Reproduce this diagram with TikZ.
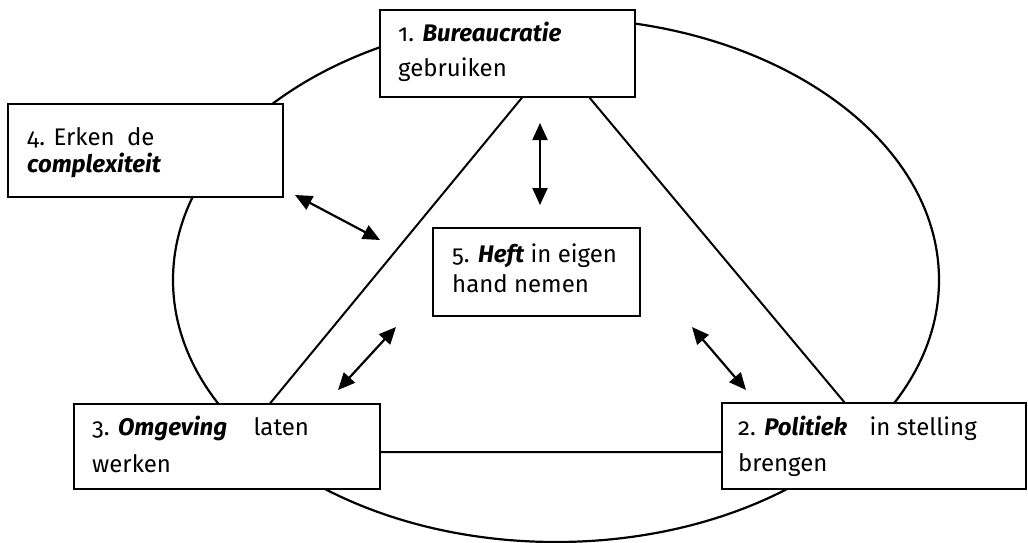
\documentclass[tikz,border=0pt]{standalone}
\usepackage{fontspec}
\setmainfont{Fira Sans}[Numbers=OldStyle]
\usetikzlibrary{arrows.meta,shapes.geometric}
\tikzset{
  boxnode/.style={draw, fill=white, line width=2.2pt, inner sep=0pt, anchor=north west},
  txt/.style={anchor=base west, inner sep=0pt, align=left},
  ln/.style={line width=2pt},
  dbl/.style={line width=2.2pt, {Triangle[length=17pt,width=15pt]}-{Triangle[length=17pt,width=15pt]}}
}
\begin{document}
\begin{tikzpicture}[x=1pt,y=-1pt]
\useasboundingbox (0,0) rectangle (1028,543);
% ellipse
\node[draw, ellipse, line width=2.2pt, minimum width=766pt, minimum height=524pt, inner sep=0pt] (ell) at (556,280) {};
% triangle
\coordinate (ta) at (555.5,57);
\coordinate (tl) at (230,452);
\coordinate (tr) at (886,452);
\draw[ln] (ta) -- (tl) -- (tr) -- cycle;
% boxes
\node[boxnode, minimum width=255pt, minimum height=87pt] (b1) at (379,9) {};
\node[boxnode, minimum width=275pt, minimum height=93pt] (b4) at (7,103) {};
\node[boxnode, minimum width=207pt, minimum height=88pt] (b5) at (432,227) {};
\node[boxnode, minimum width=306pt, minimum height=85pt] (b3) at (73,403) {};
\node[boxnode, minimum width=304pt, minimum height=86pt] (b2) at (721,402) {};
% texts (anchored at the baseline of their last line)
\node[txt, font={\fontsize{24pt}{35pt}\selectfont}] (t1) at (398,77) {1. \textbf{\textit{Bureaucratie}}\\gebruiken};
\node[txt, font={\fontsize{24pt}{27pt}\selectfont}] (t4) at (27,172) {4. Erken\hspace{6pt} de\\\textbf{\textit{complexiteit}}};
\node[txt, font={\fontsize{24pt}{30pt}\selectfont}] (t5) at (452,292) {5. \textbf{\textit{Heft}} in eigen\\hand nemen};
\node[txt, font={\fontsize{24pt}{37pt}\selectfont}] (t3) at (92,472) {3. \textbf{\textit{Omgeving}}\hspace{20pt} laten\\werken};
\node[txt, font={\fontsize{24pt}{36pt}\selectfont}] (t2) at (738,471) {2. \textbf{\textit{Politiek}}\hspace{16pt} in stelling\\brengen};
% arrows
\coordinate (a1s) at (540,123); \coordinate (a1e) at (540,205);
\coordinate (a4s) at (295,195); \coordinate (a4e) at (380,240);
\coordinate (a3s) at (396,327); \coordinate (a3e) at (338,390);
\coordinate (a2s) at (692,327); \coordinate (a2e) at (746,390);
\draw[dbl] (a1s) -- (a1e);
\draw[dbl] (a4s) -- (a4e);
\draw[dbl] (a3s) -- (a3e);
\draw[dbl] (a2s) -- (a2e);
\end{tikzpicture}
\end{document}
